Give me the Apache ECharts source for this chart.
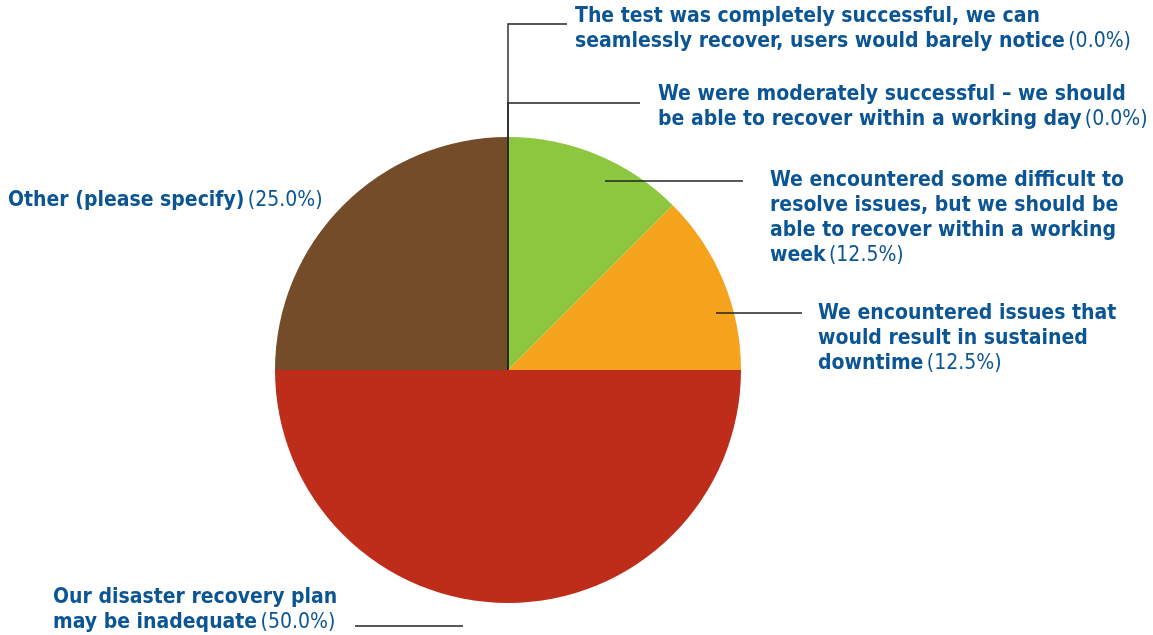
<!DOCTYPE html>
<html>
<head>
<meta charset="utf-8">
<script src="https://cdn.jsdelivr.net/npm/echarts@6/dist/echarts.min.js"></script>
<style>
  html, body { margin: 0; padding: 0; background: #ffffff; }
  #chart { width: 1153px; height: 635px; }
</style>
</head>
<body>
<div id="chart"></div>
<script>
// Survey answers (label text wrapped onto lines with \n)
const categories = [
  'The test was completely successful, we can\nseamlessly recover, users would barely notice',
  'We were moderately successful \u2013 we should\nbe able to recover within a working day',
  'We encountered some difficult to\nresolve issues, but we should be\nable to recover within a working\nweek',
  'We encountered issues that\nwould result in sustained\ndowntime',
  'Our disaster recovery plan\nmay be inadequate',
  'Other (please specify)'
];
// Share of responses, percent
const shares = [0, 0, 12.5, 12.5, 50, 25];
const sliceColors = ['#2e6db4', '#5b9bd5', '#8dc63f', '#f5a21d', '#be2d19', '#754c29'];

// Label placement: text top-left corner and leader-line points, in pixels
const labelPlacement = [
  { x: 575, y: 4,   line: [[508, 370], [508, 24], [567, 24]] },
  { x: 658, y: 82,  line: [[508, 370], [508, 103], [640, 103]] },
  { x: 770, y: 168, line: [[605, 181], [743, 181]] },
  { x: 818, y: 301, line: [[716, 313], [802, 313]] },
  { x: 53,  y: 585, line: [[355, 626], [463, 626]] },
  { x: 8,   y: 188, line: null }
];

const textBlue = '#0b5595';
const fontFamily = "'Liberation Sans Narrow', 'DejaVu Sans Condensed', 'Roboto', sans-serif";

const pieCenter = [508, 370];
const pieRadius = 233;

const chart = echarts.init(document.getElementById('chart'), null, { renderer: 'canvas' });

chart.setOption({
  animation: false,
  series: [
    {
      // coloured slices
      type: 'pie',
      z: 2,
      center: pieCenter,
      radius: pieRadius,
      startAngle: 90,
      clockwise: true,
      silent: true,
      emphasis: { disabled: true },
      itemStyle: { borderWidth: 0 },
      label: { show: false },
      labelLine: { show: false },
      data: categories.map(function (name, i) {
        return { name: name, value: shares[i], itemStyle: { color: sliceColors[i] } };
      })
    },
    {
      // same slices, transparent, carrying the labels and leader lines above the fills
      type: 'pie',
      z: 3,
      center: pieCenter,
      radius: pieRadius,
      startAngle: 90,
      clockwise: true,
      silent: true,
      avoidLabelOverlap: false,
      minShowLabelAngle: 0,
      emphasis: { disabled: true },
      itemStyle: { color: 'rgba(0,0,0,0)', borderWidth: 0 },
      label: {
        show: true,
        position: 'outside',
        formatter: function (p) {
          const lines = p.name.split('\n');
          const last = lines.pop();
          const head = lines.map(function (l) { return '{b|' + l + '}'; }).join('\n');
          const tail = '{b|' + last + '} {r|(' + shares[p.dataIndex].toFixed(1) + '%)}';
          return head ? head + '\n' + tail : tail;
        },
        rich: {
          b: { fontFamily: fontFamily, fontSize: 21, fontWeight: 'bold', color: textBlue, lineHeight: 25 },
          r: { fontFamily: fontFamily, fontSize: 21, fontWeight: 'normal', color: textBlue, lineHeight: 25 }
        }
      },
      labelLine: {
        show: true,
        lineStyle: { color: '#222222', width: 1.4 }
      },
      labelLayout: function (params) {
        const pl = labelPlacement[params.dataIndex];
        const out = { x: pl.x, y: pl.y, align: 'left', verticalAlign: 'top' };
        if (pl.line) out.labelLinePoints = pl.line;
        return out;
      },
      data: categories.map(function (name, i) {
        return {
          name: name,
          value: shares[i],
          labelLine: { show: labelPlacement[i].line !== null }
        };
      })
    }
  ]
});
</script>
</body>
</html>
